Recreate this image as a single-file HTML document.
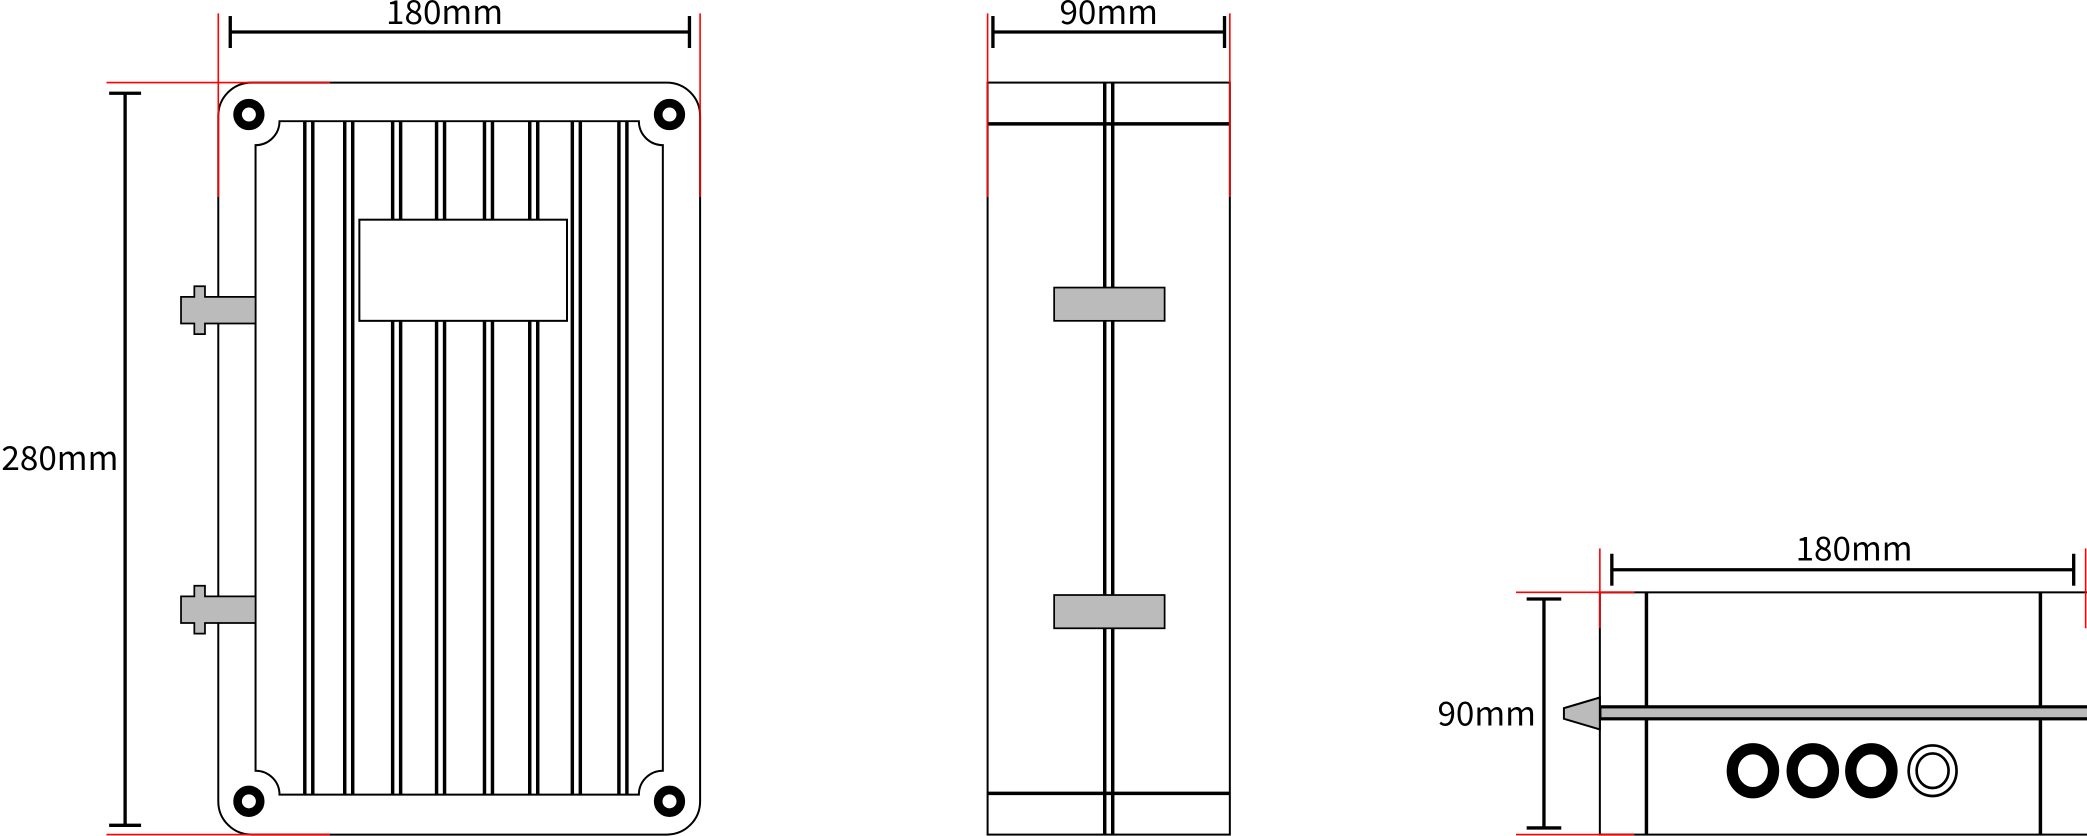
<!DOCTYPE html>
<html><head><meta charset="utf-8"><style>html,body{margin:0;padding:0;background:#fff}svg{display:block}</style></head>
<body>
<svg width="2087" height="836" viewBox="0 0 1568 628" xmlns="http://www.w3.org/2000/svg" font-family="'Noto Sans CJK SC','Liberation Sans',sans-serif" font-size="25" font-weight="400">
<rect width="1568" height="628" fill="#fff"/>
<!-- FRONT VIEW -->
<rect x="164" y="62" width="362" height="565" rx="25" fill="#fff" stroke="#000" stroke-width="1.5"/>
<path d="M210 91 H480 A18 18 0 0 0 498 109 V579 A18 18 0 0 0 480 597 H210 A18 18 0 0 0 192 579 V109 A18 18 0 0 0 210 91 Z" fill="#fff" stroke="#000" stroke-width="1.5"/>
<g stroke="#000" stroke-width="2.6">
<line x1="229" y1="91" x2="229" y2="597"/><line x1="235" y1="91" x2="235" y2="597"/>
<line x1="259" y1="91" x2="259" y2="597"/><line x1="265" y1="91" x2="265" y2="597"/>
<line x1="295" y1="91" x2="295" y2="597"/><line x1="301" y1="91" x2="301" y2="597"/>
<line x1="328" y1="91" x2="328" y2="597"/><line x1="334" y1="91" x2="334" y2="597"/>
<line x1="364" y1="91" x2="364" y2="597"/><line x1="370" y1="91" x2="370" y2="597"/>
<line x1="398" y1="91" x2="398" y2="597"/><line x1="404" y1="91" x2="404" y2="597"/>
<line x1="430" y1="91" x2="430" y2="597"/><line x1="436" y1="91" x2="436" y2="597"/>
<line x1="465" y1="91" x2="465" y2="597"/><line x1="471" y1="91" x2="471" y2="597"/>
</g>
<rect x="270" y="165" width="156" height="76" fill="#fff" stroke="#000" stroke-width="1.5"/>
<g fill="#fff" stroke="#000" stroke-width="6.5">
<circle cx="187" cy="86" r="8.5"/><circle cx="503" cy="86" r="8.5"/>
<circle cx="187" cy="602" r="8.5"/><circle cx="503" cy="602" r="8.5"/>
</g>
<g fill="#bbb" stroke="#000" stroke-width="1.3">
<path d="M192 223 H154 V215 H146 V223 H136 V243 H146 V251 H154 V243 H192 Z"/>
<path d="M192 448 H154 V440 H146 V448 H136 V468 H146 V476 H154 V468 H192 Z"/>
</g>
<g stroke="#f00" stroke-width="1.2">
<line x1="164" y1="10" x2="164" y2="148"/><line x1="526" y1="10" x2="526" y2="148"/>
<line x1="80" y1="62" x2="248" y2="62"/><line x1="80" y1="627" x2="248" y2="627"/>
</g>
<g stroke="#000" stroke-width="2.5">
<line x1="173" y1="24" x2="518" y2="24"/><line x1="173" y1="12" x2="173" y2="36"/><line x1="518" y1="12" x2="518" y2="36"/>
<line x1="94" y1="70" x2="94" y2="620"/><line x1="82" y1="70" x2="106" y2="70"/><line x1="82" y1="620" x2="106" y2="620"/>
</g>
<text x="334" y="18" text-anchor="middle">180mm</text>
<text x="45" y="353" text-anchor="middle">280mm</text>
<!-- SIDE VIEW -->
<rect x="742" y="62" width="182" height="565" fill="#fff" stroke="#000" stroke-width="1.5"/>
<g stroke="#000" stroke-width="2.6">
<line x1="742" y1="93" x2="924" y2="93"/><line x1="742" y1="596" x2="924" y2="596"/>
<line x1="830" y1="62" x2="830" y2="627"/><line x1="836" y1="62" x2="836" y2="627"/>
</g>
<rect x="792" y="216" width="83" height="25" fill="#bbb" stroke="#000" stroke-width="1.3"/>
<rect x="792" y="447" width="83" height="25" fill="#bbb" stroke="#000" stroke-width="1.3"/>
<g stroke="#f00" stroke-width="1.2">
<line x1="742" y1="10" x2="742" y2="148"/><line x1="924" y1="10" x2="924" y2="148"/>
</g>
<g stroke="#000" stroke-width="2.5">
<line x1="746" y1="24" x2="920" y2="24"/><line x1="746" y1="12" x2="746" y2="36"/><line x1="920" y1="12" x2="920" y2="36"/>
</g>
<text x="833" y="18" text-anchor="middle">90mm</text>
<!-- BOTTOM VIEW -->
<rect x="1202" y="445" width="370" height="182" fill="#fff" stroke="#000" stroke-width="1.5"/>
<g stroke="#000" stroke-width="2.6">
<line x1="1237" y1="445" x2="1237" y2="627"/><line x1="1533" y1="445" x2="1533" y2="627"/>
</g>
<rect x="1202" y="531" width="368" height="9" fill="#bbb" stroke="#000" stroke-width="2.4"/>
<path d="M1202 524 L1175 532 L1175 540 L1202 548 Z" fill="#bbb" stroke="#000" stroke-width="1.5"/>
<g fill="#fff" stroke="#000" stroke-width="8.5">
<ellipse cx="1317" cy="579" rx="15.5" ry="16.5"/><ellipse cx="1362" cy="579" rx="15.5" ry="16.5"/><ellipse cx="1406" cy="579" rx="15.5" ry="16.5"/>
</g>
<g fill="none" stroke="#000" stroke-width="2">
<ellipse cx="1452" cy="579" rx="18" ry="19"/><ellipse cx="1452" cy="579" rx="12" ry="13"/>
</g>
<g stroke="#f00" stroke-width="1.2">
<line x1="1202" y1="412" x2="1202" y2="472"/><line x1="1567" y1="412" x2="1567" y2="472"/>
<line x1="1139" y1="445" x2="1228" y2="445"/><line x1="1139" y1="627" x2="1228" y2="627"/>
</g>
<g stroke="#000" stroke-width="2.5">
<line x1="1211" y1="428" x2="1558" y2="428"/><line x1="1211" y1="416" x2="1211" y2="440"/><line x1="1558" y1="416" x2="1558" y2="440"/>
<line x1="1160" y1="450" x2="1160" y2="622"/><line x1="1147" y1="450" x2="1173" y2="450"/><line x1="1147" y1="622" x2="1173" y2="622"/>
</g>
<text x="1393" y="421" text-anchor="middle">180mm</text>
<text x="1117" y="545" text-anchor="middle">90mm</text>
</svg>
</body></html>
